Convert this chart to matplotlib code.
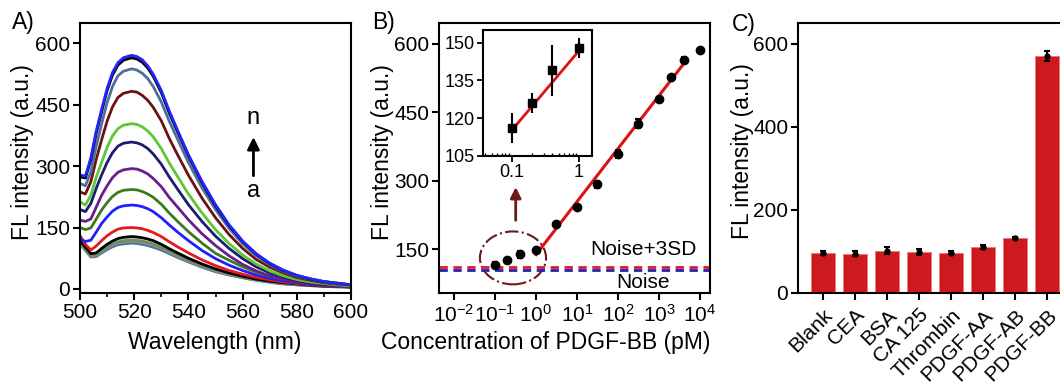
import matplotlib
matplotlib.use("Agg")
import matplotlib.pyplot as plt
from matplotlib.patches import Ellipse
import numpy as np

plt.rcParams['font.family'] = ['Liberation Sans', 'DejaVu Sans']
plt.rcParams['mathtext.fontset'] = 'custom'
plt.rcParams['mathtext.rm'] = 'Liberation Sans'
plt.rcParams['mathtext.it'] = 'Liberation Sans:italic'
plt.rcParams['axes.linewidth'] = 1.5

# ---------------- Panel A data: FL spectra a..n ----------------
wavelength = [500, 502, 504, 506, 508, 510, 512, 514, 516, 519, 521, 523, 525, 527, 530,
              533, 536, 540, 545, 550, 555, 560, 565, 570, 575, 580, 585, 590, 595, 600]
spec_a = [110, 94, 78, 79, 88, 96, 103, 108, 110, 112, 111, 109, 106, 102, 95, 86, 77, 66, 53, 42, 34, 27, 21, 16, 12, 10, 8, 6, 5, 4]
spec_b = [112, 96, 80, 81, 91, 100, 107, 112, 114, 116, 115, 113, 110, 106, 99, 89, 80, 68, 55, 44, 35, 28, 22, 17, 13, 10, 8, 7, 5, 4]
spec_c = [114, 98, 82, 83, 93, 103, 110, 115, 118, 120, 119, 117, 114, 110, 102, 92, 83, 71, 57, 46, 37, 29, 23, 18, 14, 11, 9, 7, 6, 5]
spec_d = [118, 102, 86, 88, 99, 109, 117, 123, 126, 128, 127, 125, 122, 118, 109, 98, 88, 75, 61, 49, 39, 31, 24, 19, 15, 12, 9, 7, 6, 5]
spec_e = [130, 109, 95, 105, 118, 130, 139, 146, 149, 150, 149, 147, 143, 138, 128, 115, 103, 88, 71, 57, 45, 36, 28, 22, 17, 13, 10, 8, 6, 5]
spec_f = [122, 116, 119, 139, 160, 176, 190, 199, 203, 205, 204, 201, 196, 189, 174, 156, 139, 118, 94, 74, 58, 45, 34, 26, 20, 15, 11, 9, 7, 5]
spec_g = [150, 145, 149, 171, 193, 211, 226, 236, 241, 243, 242, 238, 232, 224, 207, 185, 165, 140, 112, 87, 70, 54, 41, 31, 24, 18, 14, 11, 8, 6]
spec_h = [168, 165, 171, 200, 229, 252, 272, 285, 291, 294, 293, 288, 281, 270, 250, 223, 200, 169, 135, 106, 81, 60, 44, 32, 24, 17, 13, 9, 7, 5]
spec_i = [194, 189, 209, 246, 279, 309, 333, 349, 356, 359, 357, 352, 343, 330, 305, 273, 244, 206, 165, 129, 99, 74, 54, 39, 29, 21, 15, 11, 9, 7]
spec_j = [213, 205, 229, 273, 310, 346, 374, 392, 400, 404, 402, 396, 386, 372, 343, 307, 275, 232, 186, 145, 111, 83, 61, 44, 32, 23, 17, 13, 10, 7]
spec_k = [237, 232, 262, 317, 365, 410, 445, 468, 478, 483, 481, 473, 461, 444, 411, 367, 328, 278, 222, 174, 133, 99, 72, 53, 39, 28, 21, 15, 12, 9]
spec_l = [258, 252, 286, 349, 404, 455, 495, 521, 532, 538, 535, 527, 514, 495, 457, 409, 366, 309, 247, 194, 148, 110, 81, 59, 43, 31, 23, 17, 13, 10]
spec_m = [274, 271, 316, 381, 434, 485, 523, 547, 559, 565, 562, 554, 540, 520, 480, 429, 384, 325, 260, 203, 155, 116, 85, 62, 45, 33, 24, 18, 14, 10]
spec_n = [278, 276, 320, 386, 439, 490, 529, 553, 565, 571, 568, 560, 545, 525, 485, 434, 388, 328, 263, 206, 157, 117, 86, 63, 46, 33, 25, 18, 14, 10]
spectra = [spec_a, spec_b, spec_c, spec_d, spec_e, spec_f, spec_g,
           spec_h, spec_i, spec_j, spec_k, spec_l, spec_m, spec_n]
spec_colors = ['#4a6fa5', '#8a8a8a', '#6e8f5e', '#000000', '#e31a1c', '#1f1fff', '#3d7a1f',
               '#6a1d8c', '#1c1c70', '#5cc832', '#6b1212', '#4d6f9c', '#000000', '#2323ff']

# ---------------- Panel B data ----------------
conc = [0.1, 0.2, 0.4, 1, 3, 10, 30, 100, 300, 1000, 2000, 4000, 10000]
fl_b = [116, 126, 139, 148, 205, 243, 292, 358, 425, 478, 526, 565, 586]
err_b = [5, 4, 8, 4, 5, 4, 8, 8, 9, 5, 4, 5, 5]
fit_x = [1, 4000]
fit_intercept, fit_slope = 138, 116
inset_fit_x = [0.1, 1]
inset_intercept, inset_slope = 146.8, 31.5
noise = 105
noise_3sd = 112
b_xticks = [1e-2, 1e-1, 1e0, 1e1, 1e2, 1e3, 1e4]
b_xticklabels = [r'$10^{-2}$', r'$10^{-1}$', r'$10^{0}$', r'$10^{1}$', r'$10^{2}$', r'$10^{3}$', r'$10^{4}$']

# ---------------- Panel C data ----------------
proteins = ['Blank', 'CEA', 'BSA', 'CA 125', 'Thrombin', 'PDGF-AA', 'PDGF-AB', 'PDGF-BB']
fl_c = [96, 95, 102, 99, 97, 111, 132, 570]
err_c = [4, 5, 9, 8, 3, 4, 3, 12]

W, H = 1060, 382
fig = plt.figure(figsize=(W / 100, H / 100), dpi=100)

def rect(l, t, r, b):
    return [l / W, 1 - b / H, (r - l) / W, (b - t) / H]

TICK = 15
LAB = 16.5

def style(ax):
    ax.tick_params(direction='out', length=5, width=1.5, labelsize=TICK, pad=2)
    ax.tick_params(which='minor', direction='out', length=3, width=1.2)
    for s in ax.spines.values():
        s.set_linewidth(1.5)

# ---------- A ----------
axA = fig.add_axes(rect(80, 23, 351, 293))
for y, c in zip(spectra, spec_colors):
    axA.plot(wavelength, y, color=c, lw=2.0, solid_capstyle='round')
axA.set_xlim(500, 600)
axA.set_ylim(-10, 650)
axA.set_xticks([500, 520, 540, 560, 580, 600])
axA.set_xticks([510, 530, 550, 570, 590], minor=True)
axA.set_yticks([0, 150, 300, 450, 600])
style(axA)
axA.annotate('', xy=(564, 378), xytext=(564, 270),
             arrowprops=dict(arrowstyle='-|>', color='black', lw=2, mutation_scale=18))
axA.text(564, 417, 'n', ha='center', va='center', fontsize=17)
axA.text(564, 240, 'a', ha='center', va='center', fontsize=17)

# ---------- B ----------
axB = fig.add_axes(rect(439, 23, 710, 293))
axB.set_xscale('log')
axB.set_xlim(10 ** -2.366, 10 ** 4.244)
axB.set_ylim(54, 645)
axB.axhline(noise_3sd, color='#e31a1c', lw=2, ls=(0, (3, 2)))
axB.axhline(noise, color='#2020c0', lw=2, ls=(0, (3, 2)))
fx = np.array(fit_x, dtype=float)
axB.plot(fx, fit_intercept + fit_slope * np.log10(fx), color='#dd1111', lw=2.2)
axB.errorbar(conc, fl_b, yerr=err_b, fmt='o', color='black', ms=6, capsize=2.5,
             elinewidth=1.5, capthick=1.5)
axB.set_xticks(b_xticks)
axB.set_xticklabels(b_xticklabels)
axB.xaxis.set_minor_locator(matplotlib.ticker.NullLocator())
axB.set_yticks([150, 300, 450, 600])
style(axB)
axB.tick_params(axis='x', pad=3)
axB.text(410, 150, 'Noise+3SD', ha='center', va='center', fontsize=15)
axB.text(410, 78, 'Noise', ha='center', va='center', fontsize=15)
axB.add_patch(Ellipse((0.273, 0.13), 0.244, 0.196, transform=axB.transAxes, fill=False,
                      edgecolor='#6b1a1a', lw=1.5, ls='-.'))
axB.annotate('', xy=(0.32, 292), xytext=(0.32, 207),
             arrowprops=dict(arrowstyle='-|>', color='#6b1a1a', lw=2, mutation_scale=16))

# inset
axI = fig.add_axes(rect(483, 30, 592, 156))
axI.set_xscale('log')
axI.set_xlim(0.037, 1.56)
axI.set_ylim(105, 155)
ix = np.array(inset_fit_x, dtype=float)
axI.plot(ix, inset_intercept + inset_slope * np.log10(ix), color='#dd1111', lw=2)
axI.errorbar(conc[:4], fl_b[:4], yerr=[6, 4, 10, 4], fmt='s', color='black', ms=6,
             capsize=0, elinewidth=1.5)
axI.set_yticks([105, 120, 135, 150])
axI.set_xticks([0.1, 1])
axI.set_xticklabels(['0.1', '1'])
axI.tick_params(direction='out', length=4, width=1.3, labelsize=13, pad=2)
axI.tick_params(which='minor', direction='in', length=2.5, width=1)
axI.xaxis.set_minor_formatter(matplotlib.ticker.NullFormatter())
for s in axI.spines.values():
    s.set_linewidth(1.5)

# ---------- C ----------
axC = fig.add_axes([798 / W, 1 - 293 / H, 268.8 / W, 270 / H])
xc = np.arange(len(proteins))
axC.bar(xc, fl_c, width=0.73, color='#cc1a1f', edgecolor='#e8787a', linewidth=0.6)
axC.errorbar(xc, fl_c, yerr=err_c, fmt='o', color='black', ms=3.5, capsize=2.5,
             elinewidth=1.5, capthick=1.5)
axC.set_xlim(-0.78, 7.62)
axC.set_ylim(0, 650)
axC.set_yticks([0, 200, 400, 600])
axC.set_xticks(xc)
axC.set_xticklabels(proteins, rotation=45, ha='right', rotation_mode='anchor')
style(axC)
axC.tick_params(axis='x', pad=4)

# labels
fig.text(23 / W, 1 - 152 / H, 'FL intensity (a.u.)', rotation=90, ha='center', va='center', fontsize=LAB)
fig.text(215 / W, 1 - 343 / H, 'Wavelength (nm)', ha='center', va='center', fontsize=LAB)
fig.text(383 / W, 1 - 152 / H, 'FL intensity (a.u.)', rotation=90, ha='center', va='center', fontsize=LAB)
fig.text(546 / W, 1 - 343 / H, 'Concentration of PDGF-BB (pM)', ha='center', va='center', fontsize=LAB)
fig.text(743 / W, 1 - 151 / H, 'FL intensity (a.u.)', rotation=90, ha='center', va='center', fontsize=LAB)
fig.text(23 / W, 1 - 23 / H, 'A)', ha='center', va='center', fontsize=LAB)
fig.text(383 / W, 1 - 22 / H, 'B)', ha='center', va='center', fontsize=LAB)
fig.text(744 / W, 1 - 24 / H, 'C)', ha='center', va='center', fontsize=LAB)

fig.savefig('out.png', dpi=100)
